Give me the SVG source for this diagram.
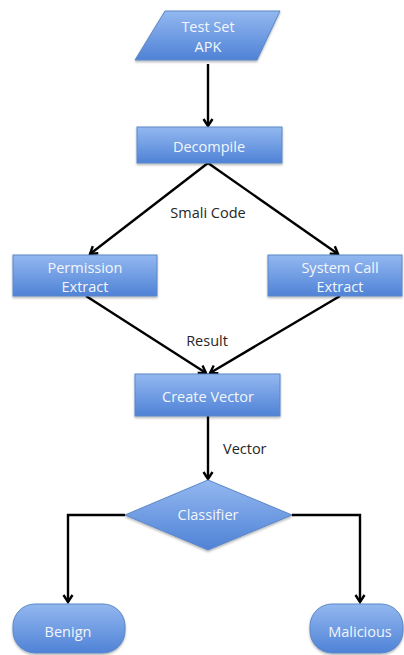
<svg xmlns="http://www.w3.org/2000/svg" width="404" height="655" viewBox="0 0 404 655">
  <style>
    .shape { fill: url(#blueFill); stroke: #5b87c7; stroke-width: 1; filter: url(#drop); }
    .ntext { font-family: "Open Sans", "Liberation Sans", sans-serif; font-size: 14.5px; fill: #f2f6fc; text-anchor: middle; }
    .ltext { font-family: "Open Sans", "Liberation Sans", sans-serif; font-size: 14.5px; fill: #262626; }
    .edge { fill: none; stroke: #000; stroke-width: 2.4; marker-end: url(#arrow); }
  </style>
  <defs>
    <linearGradient id="blueFill" x1="0" y1="0" x2="0" y2="1">
      <stop offset="0" stop-color="#93b8f0"/>
      <stop offset="1" stop-color="#4f82d6"/>
    </linearGradient>
    <filter id="drop" x="-10%" y="-10%" width="120%" height="130%">
      <feDropShadow dx="0" dy="1.5" stdDeviation="1" flood-color="#000" flood-opacity="0.3"/>
    </filter>
    <marker id="arrow" viewBox="0 0 12 12" refX="10" refY="6" markerWidth="12" markerHeight="12" markerUnits="userSpaceOnUse" orient="auto">
      <path d="M3,1.5 L10,6 L3,10.5" fill="none" stroke="#000" stroke-width="2.4"/>
    </marker>
  </defs>

  <g id="connectors">
    <line class="edge" x1="208" y1="64" x2="208" y2="126"/>
    <line class="edge" x1="208" y1="163" x2="90" y2="254"/>
    <line class="edge" x1="208" y1="163" x2="338" y2="254"/>
    <line class="edge" x1="86" y1="296" x2="206" y2="373"/>
    <line class="edge" x1="340" y1="296" x2="210" y2="373"/>
    <line class="edge" x1="208" y1="416" x2="208" y2="479"/>
    <polyline class="edge" points="125,515 68,515 68,602"/>
    <polyline class="edge" points="292,515 360,515 360,602"/>
    <text class="ltext" x="208" y="218" text-anchor="middle">Smali Code</text>
    <text class="ltext" x="207" y="346" text-anchor="middle">Result</text>
    <text class="ltext" x="223" y="454">Vector</text>
  </g>

  <g id="test-set-apk">
    <polygon class="shape" points="165,11 280,11 257,60 135,60"/>
    <text class="ntext" x="208" y="32">Test Set</text>
    <text class="ntext" x="208" y="52">APK</text>
  </g>

  <g id="decompile">
    <rect class="shape" x="137" y="127" width="145" height="36"/>
    <text class="ntext" x="209" y="152">Decompile</text>
  </g>

  <g id="permission-extract">
    <rect class="shape" x="13" y="255" width="144" height="41"/>
    <text class="ntext" x="85" y="273">Permission</text>
    <text class="ntext" x="85" y="292">Extract</text>
  </g>

  <g id="system-call-extract">
    <rect class="shape" x="268" y="255" width="134" height="41"/>
    <text class="ntext" x="340" y="273">System Call</text>
    <text class="ntext" x="340" y="292">Extract</text>
  </g>

  <g id="create-vector">
    <rect class="shape" x="135" y="374" width="145" height="42"/>
    <text class="ntext" x="208" y="402">Create Vector</text>
  </g>

  <g id="classifier">
    <polygon class="shape" points="208,480 292,515 208,550 125,515"/>
    <text class="ntext" x="208" y="520">Classifier</text>
  </g>

  <g id="benign">
    <rect class="shape" x="13" y="604" width="112" height="49" rx="22" ry="22"/>
    <text class="ntext" x="68" y="637">Benign</text>
  </g>

  <g id="malicious">
    <rect class="shape" x="310" y="604" width="93" height="49" rx="22" ry="22"/>
    <text class="ntext" x="360" y="637">Malicious</text>
  </g>
</svg>
